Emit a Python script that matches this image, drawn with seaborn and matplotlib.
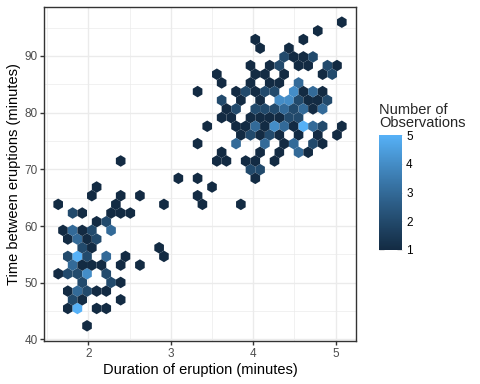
import numpy as np
import pandas as pd
import matplotlib
matplotlib.use("Agg")
import matplotlib.pyplot as plt
from matplotlib.colors import LinearSegmentedColormap
import seaborn as sns

# Old Faithful eruptions: duration (min) and waiting time (min)
eruptions = [
    3.600, 1.800, 3.333, 2.283, 4.533, 2.883, 4.700, 3.600, 1.950, 4.350,
    1.833, 3.917, 4.200, 1.750, 4.700, 2.167, 1.750, 4.800, 1.600, 4.250,
    1.800, 1.750, 3.450, 3.067, 4.533, 3.600, 1.967, 4.083, 3.850, 4.433,
    4.300, 4.467, 3.367, 4.033, 3.833, 2.017, 1.867, 4.833, 1.833, 4.783,
    4.350, 1.883, 4.567, 1.750, 4.533, 3.317, 3.833, 2.100, 4.633, 2.000,
    4.800, 4.716, 1.833, 4.833, 1.733, 4.883, 3.717, 1.667, 4.567, 4.317,
    2.233, 4.500, 1.750, 4.800, 1.817, 4.400, 4.167, 4.700, 2.067, 4.700,
    4.033, 1.967, 4.500, 4.000, 1.983, 5.067, 2.017, 4.567, 3.883, 3.600,
    4.133, 4.333, 4.100, 2.633, 4.067, 4.933, 3.950, 4.517, 2.167, 4.000,
    2.200, 4.333, 1.867, 4.817, 1.833, 4.300, 4.667, 3.750, 1.867, 4.900,
    2.483, 4.367, 2.100, 4.500, 4.050, 1.867, 4.700, 1.783, 4.850, 3.683,
    4.733, 2.300, 4.900, 4.417, 1.700, 4.633, 2.317, 4.600, 1.817, 4.417,
    2.617, 4.067, 4.250, 1.967, 4.600, 3.767, 1.917, 4.500, 2.267, 4.650,
    1.867, 4.167, 2.800, 4.333, 1.833, 4.383, 1.883, 4.933, 2.033, 3.733,
    4.233, 2.233, 4.533, 4.817, 4.333, 1.983, 4.633, 2.017, 5.100, 1.800,
    5.033, 4.000, 2.400, 4.600, 3.567, 4.000, 4.500, 4.083, 1.800, 3.967,
    2.200, 4.150, 2.000, 3.833, 3.500, 4.583, 2.367, 5.000, 1.933, 4.617,
    1.917, 2.083, 4.583, 3.333, 4.167, 4.333, 4.500, 2.417, 4.000, 4.167,
    1.883, 4.583, 4.250, 3.767, 2.033, 4.433, 4.083, 1.833, 4.417, 2.183,
    4.800, 1.833, 4.800, 4.100, 3.966, 4.233, 3.500, 4.366, 2.250, 4.667,
    2.100, 4.350, 4.133, 1.867, 4.600, 1.783, 4.367, 3.850, 1.933, 4.500,
    2.383, 4.700, 1.867, 3.833, 3.417, 4.233, 2.400, 4.800, 2.000, 4.150,
    1.867, 4.267, 1.750, 4.483, 4.000, 4.117, 4.083, 4.267, 3.917, 4.550,
    4.083, 2.417, 4.183, 2.217, 4.450, 1.883, 1.850, 4.283, 3.950, 2.333,
    4.150, 2.350, 4.933, 2.900, 4.583, 3.833, 2.083, 4.367, 2.133, 4.350,
    2.200, 4.450, 3.567, 4.500, 4.150, 3.817, 3.917, 4.450, 2.000, 4.283,
    4.767, 4.533, 1.850, 4.250, 1.983, 2.250, 4.750, 4.117, 2.150, 4.417,
    1.817, 4.467,
]
waiting = [
    79, 54, 74, 62, 85, 55, 88, 85, 51, 85, 54, 84, 78, 47, 83, 52, 62, 84,
    52, 79, 51, 47, 78, 69, 74, 83, 55, 76, 78, 79, 73, 77, 66, 80, 74, 52,
    48, 80, 59, 90, 80, 58, 84, 58, 73, 83, 64, 53, 82, 59, 75, 90, 54, 80,
    54, 83, 71, 64, 77, 81, 59, 84, 48, 82, 60, 92, 78, 78, 65, 73, 82, 56,
    79, 71, 62, 76, 60, 78, 76, 83, 75, 82, 70, 65, 73, 88, 76, 80, 48, 86,
    60, 90, 50, 78, 63, 72, 84, 75, 51, 82, 62, 88, 49, 83, 81, 47, 84, 52,
    86, 81, 75, 59, 89, 79, 59, 81, 50, 85, 59, 87, 53, 69, 77, 56, 88, 81,
    45, 82, 55, 90, 45, 83, 56, 89, 46, 82, 51, 86, 53, 79, 81, 60, 82, 77,
    76, 59, 80, 49, 96, 53, 77, 77, 65, 81, 71, 70, 81, 93, 53, 89, 45, 86,
    58, 78, 66, 76, 63, 88, 52, 93, 49, 57, 77, 68, 81, 81, 73, 50, 85, 74,
    55, 77, 83, 83, 51, 78, 84, 46, 83, 55, 81, 57, 76, 84, 77, 81, 87, 77,
    51, 78, 60, 82, 91, 53, 78, 46, 77, 84, 49, 83, 71, 80, 49, 75, 64, 76,
    53, 94, 55, 76, 50, 82, 54, 75, 78, 79, 78, 78, 70, 79, 70, 54, 86, 50,
    90, 54, 54, 77, 79, 64, 75, 47, 86, 63, 85, 82, 57, 82, 67, 74, 54, 83,
    73, 73, 88, 80, 71, 83, 56, 79, 78, 84, 58, 83, 43, 60, 75, 81, 46, 90,
    46, 74,
]

df = pd.DataFrame({"eruptions": eruptions, "waiting": waiting})

sns.set_theme(style="white")
plt.rcParams["font.family"] = ["Liberation Sans", "DejaVu Sans"]


def srgb_to_lab(c):
    c = np.asarray(c, float)
    lin = np.where(c <= 0.04045, c / 12.92, ((c + 0.055) / 1.055) ** 2.4)
    m = np.array([[0.4124, 0.3576, 0.1805],
                  [0.2126, 0.7152, 0.0722],
                  [0.0193, 0.1192, 0.9505]])
    xyz = m @ lin / np.array([0.95047, 1.0, 1.08883])
    f = np.where(xyz > 0.008856, np.cbrt(xyz), 7.787 * xyz + 16 / 116)
    return np.array([116 * f[1] - 16, 500 * (f[0] - f[1]), 200 * (f[1] - f[2])])


def lab_to_srgb(lab):
    L, a, b = lab
    fy = (L + 16) / 116
    f = np.array([fy + a / 500, fy, fy - b / 200])
    xyz = np.where(f ** 3 > 0.008856, f ** 3, (f - 16 / 116) / 7.787)
    xyz = xyz * np.array([0.95047, 1.0, 1.08883])
    mi = np.array([[3.2406, -1.5372, -0.4986],
                   [-0.9689, 1.8758, 0.0415],
                   [0.0557, -0.2040, 1.0570]])
    lin = mi @ xyz
    c = np.where(lin <= 0.0031308, 12.92 * lin, 1.055 * np.abs(lin) ** (1 / 2.4) - 0.055)
    return np.clip(c, 0, 1)


# ggplot default continuous gradient, interpolated in Lab
low = matplotlib.colors.to_rgb("#132B43")
high = matplotlib.colors.to_rgb("#56B1F7")
la, lb = srgb_to_lab(low), srgb_to_lab(high)
cols = [lab_to_srgb(la + t * (lb - la)) for t in np.linspace(0, 1, 64)]
cmap = LinearSegmentedColormap.from_list("gg", cols)

# ggplot-style hex grid: 30 bins across the data range
x = df["eruptions"].to_numpy()
y = df["waiting"].to_numpy()
bwx = np.ptp(x) / 30
bwy = np.ptp(y) / 30
xlo = np.floor(x.min() / bwx) * bwx - 1e-6
xhi = np.ceil(x.max() / bwx) * bwx + 1e-6
ylo = np.floor(y.min() / bwy) * bwy - 1e-6
yhi = np.ceil(y.max() / bwy) * bwy + 1e-6
nx = int(round((xhi - xlo) / bwx))
sy = np.sqrt(3) * bwy
ny = int(np.ceil((yhi - ylo) / sy))

fig = plt.figure(figsize=(4.8, 3.84), dpi=100)
ax = fig.add_axes([44 / 480, 43 / 384, 312 / 480, 334 / 384])

hb = ax.hexbin(x, y, gridsize=(nx, ny), extent=(xlo, xlo + nx * bwx, ylo, ylo + ny * sy),
               mincnt=1, cmap=cmap, linewidths=0, edgecolors="none", zorder=3)
counts = hb.get_array()
hb.set_clim(np.nanmin(counts), np.nanmax(counts))

# limits from hex centres with 5% expansion
off = hb.get_offsets()
cx0, cx1 = off[:, 0].min(), off[:, 0].max()
cy0, cy1 = off[:, 1].min(), off[:, 1].max()
ax.set_xlim(cx0 - 0.05 * (cx1 - cx0), cx1 + 0.05 * (cx1 - cx0))
ax.set_ylim(cy0 - 0.05 * (cy1 - cy0), cy1 + 0.05 * (cy1 - cy0))

ax.set_xticks([2, 3, 4, 5])
ax.set_yticks([40, 50, 60, 70, 80, 90])
ax.set_xticks([1.5, 2.5, 3.5, 4.5], minor=True)
ax.set_yticks([45, 55, 65, 75, 85, 95], minor=True)
ax.grid(True, which="major", color="#EBEBEB", linewidth=1.0, zorder=0)
ax.grid(True, which="minor", color="#EBEBEB", linewidth=0.5, zorder=0)
ax.set_axisbelow(True)
for s in ax.spines.values():
    s.set_color("#333333")
    s.set_linewidth(1.0)
ax.tick_params(which="major", direction="out", length=2.6, width=1.0, color="#333333",
               labelsize=8.45, labelcolor="#4D4D4D", pad=2.1, bottom=True, left=True)
ax.tick_params(which="minor", length=0, bottom=False, left=False)
ax.set_xlabel("Duration of eruption (minutes)", fontsize=10.56, color="black", labelpad=2.6)
ax.set_ylabel("Time between eruptions (minutes)", fontsize=10.56, color="black", labelpad=2.6)

cax = fig.add_axes([379 / 480, 134 / 384, 23 / 480, 115 / 384])
cb = fig.colorbar(hb, cax=cax, ticks=[1, 2, 3, 4, 5])
cb.outline.set_visible(False)
cax.tick_params(direction="in", color="#DDDDDD", length=3.3, width=0.6, left=True, right=True,
                labelsize=8.45, labelcolor="black", pad=3.0)
fig.text(379 / 480, 254 / 384, "Number of\nObservations", fontsize=10.56, ha="left",
         va="bottom", linespacing=0.95)

fig.savefig("out.png", dpi=100)
